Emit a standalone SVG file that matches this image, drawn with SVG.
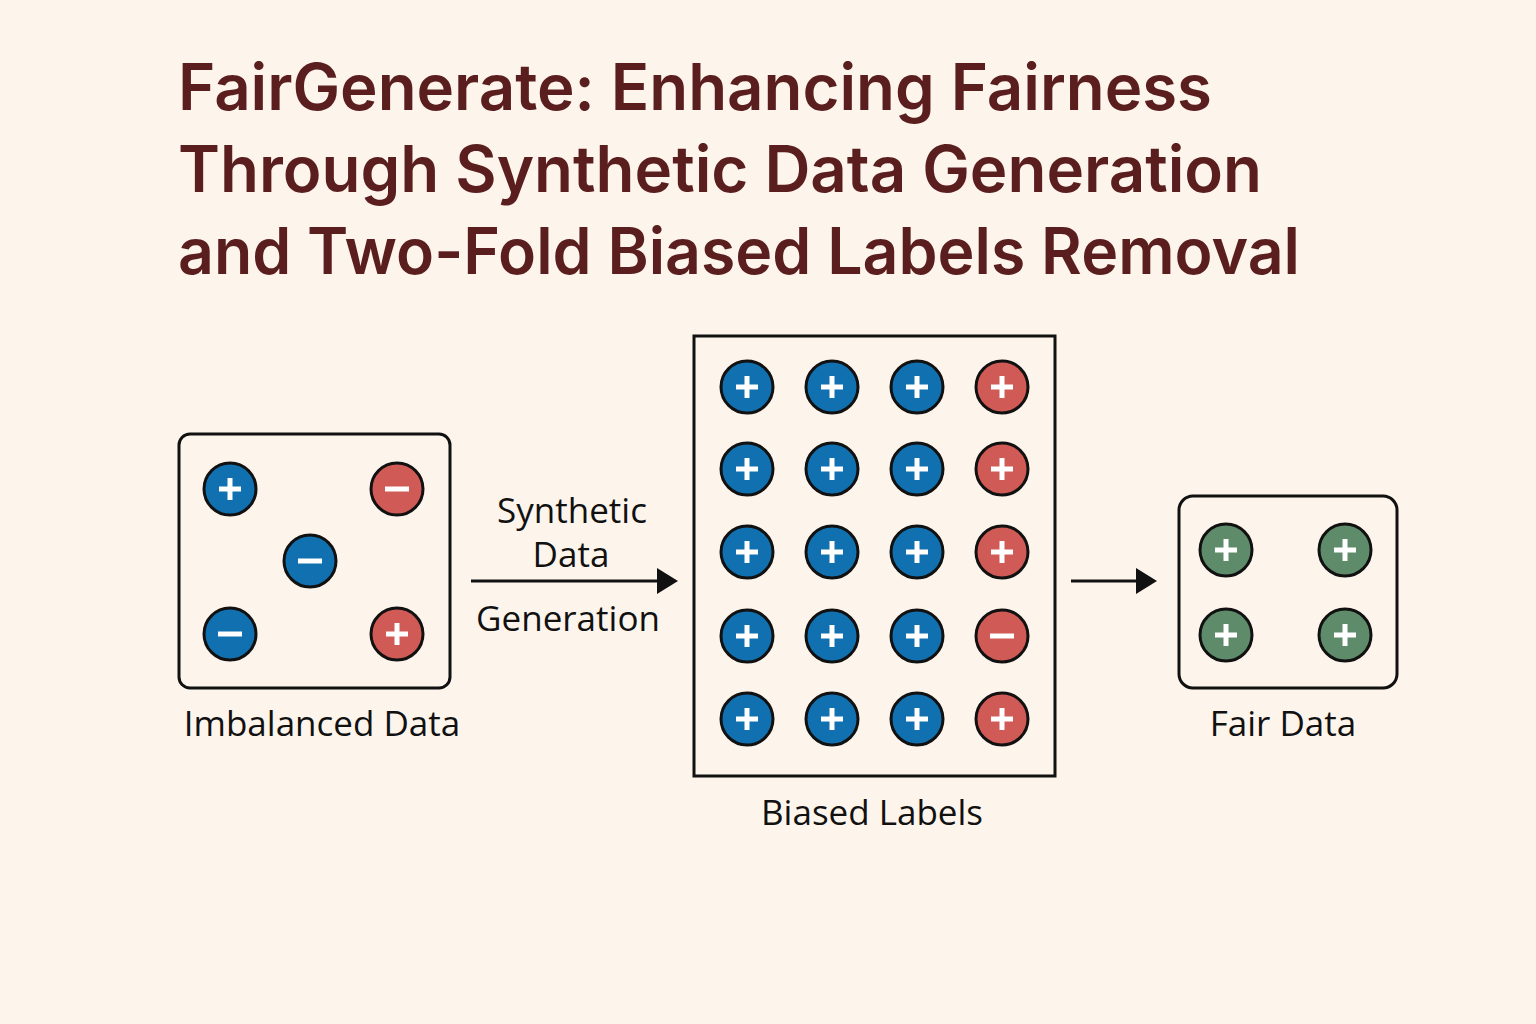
<svg xmlns="http://www.w3.org/2000/svg" xmlns:xlink="http://www.w3.org/1999/xlink" width="1536" height="1024" viewBox="0 0 1536 1024">
<style>
.title{font-family:Inter,"Liberation Sans",Arial,sans-serif;font-weight:600;font-size:64px;fill:#5A1E1E}
.lbl{font-family:"Open Sans","Liberation Sans",sans-serif;font-size:35px;fill:#111}
.box{fill:#FDF5EC;stroke:#111;stroke-width:3}
.b{fill:#1170B0;stroke:#111;stroke-width:3}
.r{fill:#D05A55;stroke:#111;stroke-width:3}
.g{fill:#5E8C6A;stroke:#111;stroke-width:3}
.sym{stroke:#fff;stroke-width:5;fill:none}
.conn{stroke:#111;stroke-width:3;fill:none}
</style>
<defs>
<g id="plus"><path class="sym" d="M-11,0 H11 M0,-11 V11"/></g>
<g id="minus"><path class="sym" d="M-12,0 H12"/></g>
<path id="head" d="M0,-13 L21,0 L0,13 Z" fill="#111"/>
</defs>
<rect width="1536" height="1024" fill="#FDF5EC"/>
<g id="title">
<text class="title" x="178" y="110" textLength="1034" lengthAdjust="spacingAndGlyphs">FairGenerate: Enhancing Fairness</text>
<text class="title" x="178" y="192" textLength="1084" lengthAdjust="spacingAndGlyphs">Through Synthetic Data Generation</text>
<text class="title" x="178" y="274" textLength="1122" lengthAdjust="spacingAndGlyphs">and Two-Fold Biased Labels Removal</text>
</g>
<g id="connectors">
<line class="conn" x1="471" y1="581" x2="658" y2="581"/>
<use href="#head" x="657" y="581"/>
<line class="conn" x1="1071" y1="581" x2="1137" y2="581"/>
<use href="#head" x="1136" y="581"/>
<text class="lbl" x="572" y="523" text-anchor="middle" font-size="34">Synthetic</text>
<text class="lbl" x="571" y="567" text-anchor="middle" font-size="34">Data</text>
<text class="lbl" x="568" y="631" text-anchor="middle">Generation</text>
</g>
<g id="imbalanced">
<rect class="box" x="179" y="434" width="271" height="254" rx="11"/>
<circle class="b" cx="230" cy="489" r="26"/><use href="#plus" x="230" y="489"/>
<circle class="r" cx="397" cy="489" r="26"/><use href="#minus" x="397" y="489"/>
<circle class="b" cx="310" cy="561" r="26"/><use href="#minus" x="310" y="561"/>
<circle class="b" cx="230" cy="634" r="26"/><use href="#minus" x="230" y="634"/>
<circle class="r" cx="397" cy="634" r="26"/><use href="#plus" x="397" y="634"/>
<text class="lbl" x="322" y="736" text-anchor="middle">Imbalanced Data</text>
</g>
<g id="biased">
<rect class="box" x="694" y="336" width="361" height="440"/>
<g>
<circle class="b" cx="747" cy="387" r="26"/><use href="#plus" x="747" y="387"/>
<circle class="b" cx="832" cy="387" r="26"/><use href="#plus" x="832" y="387"/>
<circle class="b" cx="917" cy="387" r="26"/><use href="#plus" x="917" y="387"/>
<circle class="r" cx="1002" cy="387" r="26"/><use href="#plus" x="1002" y="387"/>
<circle class="b" cx="747" cy="469" r="26"/><use href="#plus" x="747" y="469"/>
<circle class="b" cx="832" cy="469" r="26"/><use href="#plus" x="832" y="469"/>
<circle class="b" cx="917" cy="469" r="26"/><use href="#plus" x="917" y="469"/>
<circle class="r" cx="1002" cy="469" r="26"/><use href="#plus" x="1002" y="469"/>
<circle class="b" cx="747" cy="552" r="26"/><use href="#plus" x="747" y="552"/>
<circle class="b" cx="832" cy="552" r="26"/><use href="#plus" x="832" y="552"/>
<circle class="b" cx="917" cy="552" r="26"/><use href="#plus" x="917" y="552"/>
<circle class="r" cx="1002" cy="552" r="26"/><use href="#plus" x="1002" y="552"/>
<circle class="b" cx="747" cy="636" r="26"/><use href="#plus" x="747" y="636"/>
<circle class="b" cx="832" cy="636" r="26"/><use href="#plus" x="832" y="636"/>
<circle class="b" cx="917" cy="636" r="26"/><use href="#plus" x="917" y="636"/>
<circle class="r" cx="1002" cy="636" r="26"/><use href="#minus" x="1002" y="636"/>
<circle class="b" cx="747" cy="719" r="26"/><use href="#plus" x="747" y="719"/>
<circle class="b" cx="832" cy="719" r="26"/><use href="#plus" x="832" y="719"/>
<circle class="b" cx="917" cy="719" r="26"/><use href="#plus" x="917" y="719"/>
<circle class="r" cx="1002" cy="719" r="26"/><use href="#plus" x="1002" y="719"/>
</g>
<text class="lbl" x="872" y="825" text-anchor="middle">Biased Labels</text>
</g>
<g id="fair">
<rect class="box" x="1179" y="496" width="218" height="192" rx="14"/>
<circle class="g" cx="1226" cy="550" r="26"/><use href="#plus" x="1226" y="550"/>
<circle class="g" cx="1345" cy="550" r="26"/><use href="#plus" x="1345" y="550"/>
<circle class="g" cx="1226" cy="635" r="26"/><use href="#plus" x="1226" y="635"/>
<circle class="g" cx="1345" cy="635" r="26"/><use href="#plus" x="1345" y="635"/>
<text class="lbl" x="1283" y="736" text-anchor="middle">Fair Data</text>
</g>
</svg>
